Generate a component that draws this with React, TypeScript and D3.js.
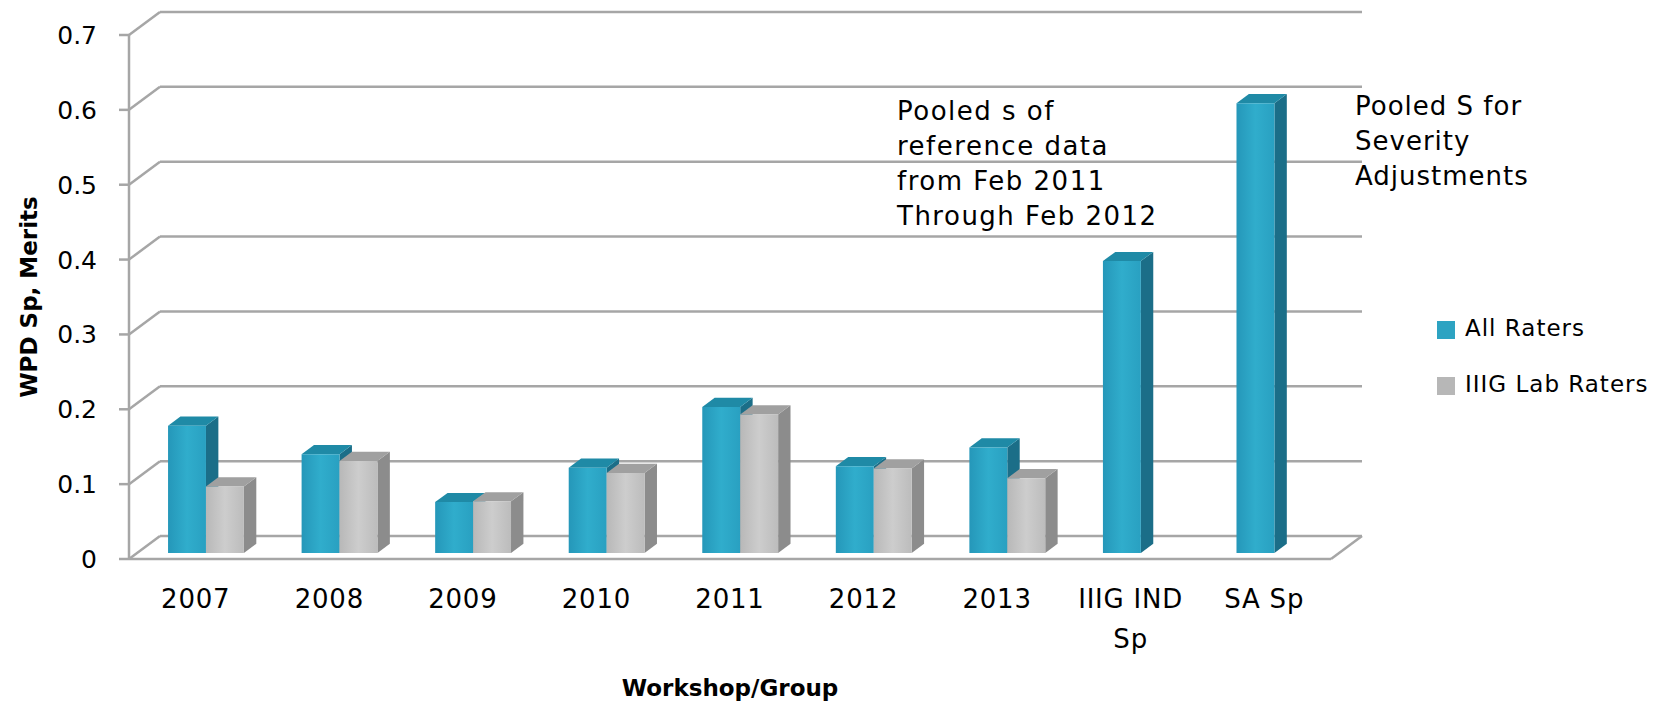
import * as d3 from 'd3';

const categories = ['2007', '2008', '2009', '2010', '2011', '2012', '2013', 'IIIG IND|Sp', 'SA Sp'];
const allRaters = [0.17, 0.132, 0.068, 0.114, 0.195, 0.116, 0.141, 0.39, 0.601];
const labRaters: (number | null)[] = [0.089, 0.123, 0.069, 0.107, 0.185, 0.113, 0.1, null, null];
const seriesNames = ['All Raters', 'IIIG Lab Raters'];
const yTicks = [0, 0.1, 0.2, 0.3, 0.4, 0.5, 0.6, 0.7];
const noteLeft = ['Pooled s of', 'reference data', 'from Feb 2011', 'Through Feb 2012'];
const noteRight = ['Pooled S for', 'Severity', 'Adjustments'];

const W = 1663;
const H = 706;
const DX = 31;
const DY = 23;
const Z0 = 0.26;
const Z1 = 0.66;
const FONT = '"DejaVu Sans", sans-serif';

const x = d3.scaleBand<string>().domain(categories).range([129, 1331]);
const inner = d3.scaleBand<string>().domain(seriesNames).range([x.bandwidth() * 0.232, x.bandwidth() * 0.8]);
const y = d3.scaleLinear().domain([0, 0.7]).range([559, 35]);

const pt = (px: number, py: number, z: number) => `${px + DX * z},${py - DY * z}`;

const colours = [
  { front: 'url(#blueFront)', top: '#1f8aa6', side: '#1b6e88' },
  { front: 'url(#grayFront)', top: '#a0a0a0', side: '#8c8c8c' },
];

function Bar({ x0, v, s }: { x0: number; v: number; s: number }) {
  const w = inner.bandwidth();
  const x1 = x0 + w;
  const yb = y(0);
  const yt = y(v);
  const c = colours[s];
  return (
    <g>
      <polygon points={[pt(x1, yt, Z0), pt(x1, yb, Z0), pt(x1, yb, Z1), pt(x1, yt, Z1)].join(' ')} fill={c.side} />
      <polygon points={[pt(x0, yt, Z0), pt(x1, yt, Z0), pt(x1, yt, Z1), pt(x0, yt, Z1)].join(' ')} fill={c.top} />
      <polygon points={[pt(x0, yt, Z0), pt(x1, yt, Z0), pt(x1, yb, Z0), pt(x0, yb, Z0)].join(' ')} fill={c.front} />
    </g>
  );
}

export default function App() {
  const left = x.range()[0];
  const right = x.range()[1];
  const grid = '#a6a6a6';

  return (
    <svg width={W} height={H} style={{ position: 'absolute', left: 0, top: 0, background: '#fff' }} fontFamily={FONT}>
      <defs>
        <linearGradient id="blueFront" x1="0" x2="1" y1="0" y2="0">
          <stop offset="0" stopColor="#2597b9" />
          <stop offset="0.5" stopColor="#30adcc" />
          <stop offset="1" stopColor="#29a0c1" />
        </linearGradient>
        <linearGradient id="grayFront" x1="0" x2="1" y1="0" y2="0">
          <stop offset="0" stopColor="#b8b8b8" />
          <stop offset="0.5" stopColor="#cdcdcd" />
          <stop offset="1" stopColor="#bcbcbc" />
        </linearGradient>
      </defs>

      {/* back wall gridlines + left wall diagonals + ticks */}
      {yTicks.map((t) => (
        <g key={t} stroke={grid} strokeWidth={2.5} fill="none">
          <line x1={left + DX} x2={right + DX} y1={y(t) - DY} y2={y(t) - DY} />
          <line x1={left} x2={left + DX} y1={y(t)} y2={y(t) - DY} />
          <line x1={left - 10} x2={left} y1={y(t)} y2={y(t)} />
        </g>
      ))}
      <line x1={left} x2={left} y1={y(0.7)} y2={y(0)} stroke={grid} strokeWidth={2.5} />
      {/* floor */}
      <line x1={left} x2={right} y1={y(0)} y2={y(0)} stroke={grid} strokeWidth={2.5} />
      <line x1={right} x2={right + DX} y1={y(0)} y2={y(0) - DY} stroke={grid} strokeWidth={2.5} />

      {/* y tick labels */}
      {yTicks.map((t) => (
        <text key={t} x={97} y={y(t)} dy="0.36em" textAnchor="end" fontSize={25} fill="#000">
          {String(t)}
        </text>
      ))}

      {/* bars */}
      {categories.map((c, i) => {
        const x0 = x(c)!;
        return (
          <g key={c}>
            <Bar x0={x0 + inner(seriesNames[0])!} v={allRaters[i]} s={0} />
            {labRaters[i] != null && <Bar x0={x0 + inner(seriesNames[1])!} v={labRaters[i] as number} s={1} />}
          </g>
        );
      })}

      {/* category labels */}
      {categories.map((c) => (
        <text key={c} x={x(c)! + x.bandwidth() / 2} y={608} textAnchor="middle" fontSize={26} letterSpacing={0.8} fill="#000">
          {c.split('|').map((line, k) => (
            <tspan key={k} x={x(c)! + x.bandwidth() / 2} dy={k === 0 ? 0 : 40}>
              {line}
            </tspan>
          ))}
        </text>
      ))}

      {/* annotations */}
      {noteLeft.map((line, k) => (
        <text key={line} x={897} y={120 + k * 35} fontSize={26} letterSpacing={1.5} fill="#000">
          {line}
        </text>
      ))}
      {noteRight.map((line, k) => (
        <text key={line} x={1355} y={115 + k * 35} fontSize={26} letterSpacing={1} fill="#000">
          {line}
        </text>
      ))}

      {/* legend */}
      {seriesNames.map((name, k) => (
        <g key={name} transform={`translate(1437, ${321 + k * 56})`}>
          <rect width={18} height={18} fill={k === 0 ? '#2da3c2' : '#b7b7b7'} />
          <text x={28} y={15} fontSize={23} letterSpacing={1} fill="#000">
            {name}
          </text>
        </g>
      ))}

      {/* axis titles */}
      <text transform="translate(37, 297) rotate(-90)" textAnchor="middle" fontSize={23} fontWeight="bold" fill="#000">
        WPD Sp, Merits
      </text>
      <text x={730} y={696} textAnchor="middle" fontSize={23} fontWeight="bold" fill="#000">
        Workshop/Group
      </text>
    </svg>
  );
}
